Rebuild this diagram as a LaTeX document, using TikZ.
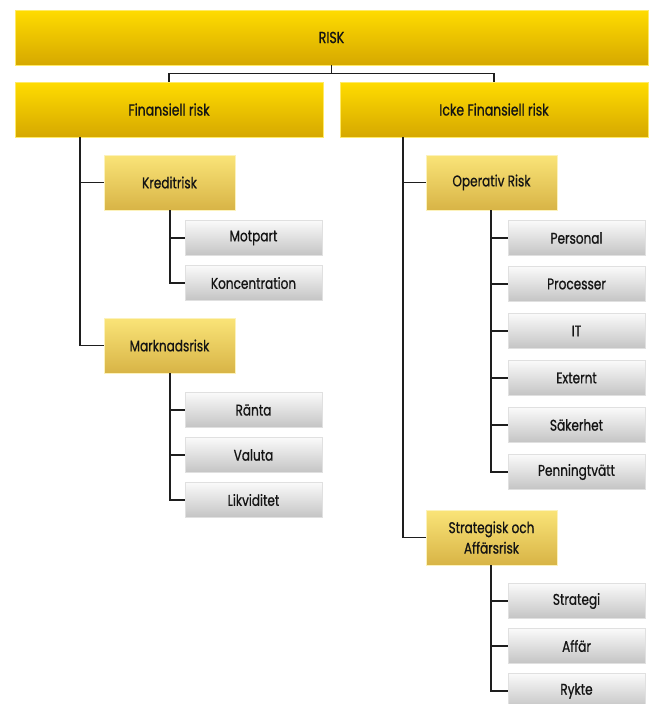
\documentclass[tikz,border=0pt]{standalone}
\usepackage{fontspec}
\setmainfont{Poppins}[FakeStretch=0.78,FakeBold=0.8]
\usetikzlibrary{positioning}
\definecolor{ytop}{RGB}{255,220,0}
\definecolor{ybot}{RGB}{214,168,0}
\definecolor{ltop}{RGB}{250,228,120}
\definecolor{lbot}{RGB}{216,180,70}
\definecolor{gtop}{RGB}{250,250,250}
\definecolor{gbot}{RGB}{196,196,196}
\definecolor{lnc}{RGB}{30,30,30}
\definecolor{txt}{RGB}{20,20,20}
\tikzset{
  topbox/.style={rectangle, top color=ytop, bottom color=ybot, draw=ytop!60!white, line width=0.6pt, font=\fontsize{16}{19}\selectfont, text=txt, inner sep=0pt},
  midbox/.style={rectangle, top color=ltop, bottom color=lbot, draw=ltop!50!white, line width=0.6pt, minimum width=131pt, minimum height=55pt, font=\fontsize{15.5}{20.5}\selectfont, text=txt, align=center, inner sep=0pt},
  leafbox/.style={rectangle, top color=gtop, bottom color=gbot, draw=white!88!black, line width=0.6pt, minimum width=137pt, minimum height=35pt, font=\fontsize{15.5}{18}\selectfont, text=txt, inner sep=0pt},
  conn/.style={draw=lnc, line width=1.6pt}
}
\begin{document}
\begin{tikzpicture}[x=1pt,y=-1pt]
\useasboundingbox (0,0) rectangle (651,704);
\node[topbox, minimum width=633pt, minimum height=55pt] (risk) at (331.5,37.5) {RISK};
\node[topbox, minimum width=308pt, minimum height=55pt] (fin) at (169,109.5) {Finansiell risk};
\node[topbox, minimum width=308pt, minimum height=55pt] (icke) at (494,109.5) {Icke Finansiell risk};
% left
\node[midbox] (kred) at (169.5,182.5) {Kreditrisk};
\node[leafbox] (motpart) at (253.5,238) {Motpart};
\node[leafbox] (konc) at (253.5,283) {Koncentration};
\node[midbox] (mark) at (169.5,345.5) {Marknadsrisk};
\node[leafbox] (ranta) at (253.5,410) {Ränta};
\node[leafbox] (valuta) at (253.5,455) {Valuta};
\node[leafbox] (likv) at (253.5,500) {Likviditet};
% right
\node[midbox] (oper) at (491.5,182.5) {Operativ Risk};
\node[leafbox] (pers) at (576.5,238) {Personal};
\node[leafbox] (proc) at (576.5,284) {Processer};
\node[leafbox] (it) at (576.5,331) {IT};
\node[leafbox] (ext) at (576.5,378) {Externt};
\node[leafbox] (sak) at (576.5,425) {Säkerhet};
\node[leafbox] (penn) at (576.5,472) {Penningtvätt};
\node[midbox] (strat) at (491.5,537.5) {Strategisk och\\Affärsrisk};
\node[leafbox] (strategi) at (576.5,601) {Strategi};
\node[leafbox] (affar) at (576.5,646) {Affär};
\node[leafbox] (rykte) at (576.5,691) {Rykte};
% connectors
\draw[conn] (risk.south) -- ++(0,8) coordinate (rj) -| (fin.north);
\draw[conn] (rj) -| (icke.north);
\draw[conn] ([xshift=65pt]fin.south west) |- (kred.west);
\draw[conn] ([xshift=65pt]fin.south west) |- (mark.west);
\draw[conn] ([xshift=66pt]kred.south west) |- (motpart.west);
\draw[conn] ([xshift=66pt]kred.south west) |- (konc.west);
\draw[conn] ([xshift=66pt]mark.south west) |- (ranta.west);
\draw[conn] ([xshift=66pt]mark.south west) |- (valuta.west);
\draw[conn] ([xshift=66pt]mark.south west) |- (likv.west);
\draw[conn] ([xshift=63pt]icke.south west) |- (oper.west);
\draw[conn] ([xshift=63pt]icke.south west) |- (strat.west);
\foreach \c in {pers,proc,it,ext,sak,penn}
  \draw[conn] ([xshift=65pt]oper.south west) |- (\c.west);
\foreach \c in {strategi,affar,rykte}
  \draw[conn] ([xshift=65pt]strat.south west) |- (\c.west);
\end{tikzpicture}
\end{document}
